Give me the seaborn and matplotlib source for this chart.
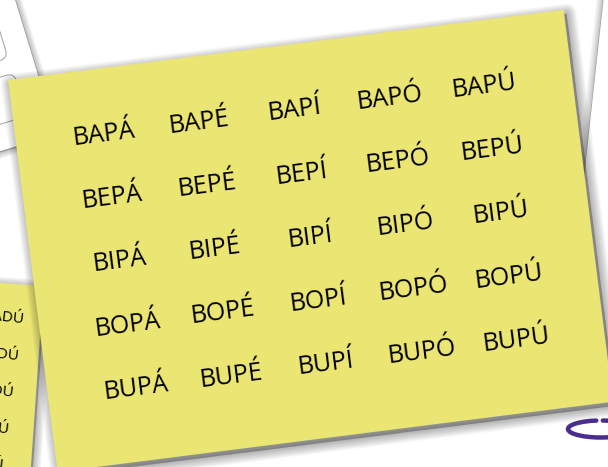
import numpy as np
import matplotlib
matplotlib.use("Agg")
import matplotlib.pyplot as plt
import seaborn as sns
from matplotlib.patches import Polygon, Arc, FancyBboxPatch
from matplotlib.transforms import Affine2D

# syllable card: B + vowel + P + accented vowel
first = ["B"]
vowels = ["A", "E", "I", "O", "U"]
accents = ["Á", "É", "Í", "Ó", "Ú"]
words = [[first[0] + v + "P" + a for a in accents] for v in vowels]

# card on the left, only the ends of the words show
side_words = ["BADÚ", "BEDÚ", "BIDÚ", "BODÚ", "BUDÚ"]

W, H = 608, 467
yellow = "#ebe573"

sns.set_theme(style="white")
plt.rcParams["font.family"] = ["Open Sans", "DejaVu Sans"]

fig = plt.figure(figsize=(6.08, 4.67), dpi=100)
ax = fig.add_axes([0, 0, 1, 1])
ax.set_xlim(0, W)
ax.set_ylim(H, 0)
ax.axis("off")


def corners(x0, y0, ang, w, h):
    a = np.deg2rad(ang)
    u = np.array([np.cos(a), -np.sin(a)])
    v = np.array([np.sin(a), np.cos(a)])
    o = np.array([x0, y0])
    return np.array([o, o + w * u, o + w * u + h * v, o + h * v]), o, u, v


def shadow(pts, dx, dy, z, n=10, alpha=0.03, step=1.5):
    for k in range(n):
        lw = 1 + step * k
        ax.add_patch(Polygon(pts + [dx, dy], closed=True, fc=(0, 0, 0, alpha),
                             ec=(0, 0, 0, alpha), lw=lw, joinstyle="round", zorder=z))


# white card top-left with rounded boxes
tl, _, _, _ = corners(-98, -28, 17, 100, 200)
shadow(tl, 1, 1, 1, n=7, alpha=0.035, step=1.3)
ax.add_patch(Polygon(tl, closed=True, fc="white", ec="none", zorder=2))
for (cx, cy, by) in [(8, 58, -45), (14, 73, 0)]:
    box = FancyBboxPatch((-60, by), 60, 45, boxstyle="round,pad=0,rounding_size=8",
                         fc="none", ec="#a0a0a0", lw=0.7, zorder=3,
                         transform=Affine2D().rotate_deg(-17).translate(cx, cy) + ax.transData)
    ax.add_patch(box)

# white card top-right
tr = np.array([[604, -5], [700, -5], [700, 360], [564, 360]])
shadow(tr, -1, 1, 1, n=7, alpha=0.035, step=1.3)
ax.add_patch(Polygon(tr, closed=True, fc="white", ec="none", zorder=2))

# yellow card on the left
lc, lo, lu, lv = corners(-156, 272, -4, 200, 300)
shadow(lc, 2, 2, 3, n=8, alpha=0.035)
ax.add_patch(Polygon(lc, closed=True, fc=yellow, ec="none", zorder=4))
for i, wd in enumerate(side_words):
    ax.text(25 - 5 * i, 318 + 36.5 * i, wd, ha="right", va="center", fontsize=11,
            rotation=-6, color="black", zorder=5)

# purple loop bottom right
ax.add_patch(Arc((601, 429), 66, 17, theta1=-78, theta2=241, lw=3.2,
                 color="#4a2d8f", zorder=2, capstyle="round"))

# main syllable card
mc, mo, mu, mv = corners(8, 80, 7.2, 560, 395)
shadow(mc, 3, 4, 6, n=10, alpha=0.03)
ax.add_patch(Polygon(mc, closed=True, fc=yellow, ec="none", zorder=7))
for i, row in enumerate(words):
    for j, wd in enumerate(row):
        x, y = mo + (88 + 96 * j) * mu + (66 + 64 * i) * mv
        ax.text(x, y, wd, ha="center", va="center", fontsize=18, rotation=7.2,
                color="black", zorder=8)

fig.savefig("out.png", dpi=100, facecolor="white")
